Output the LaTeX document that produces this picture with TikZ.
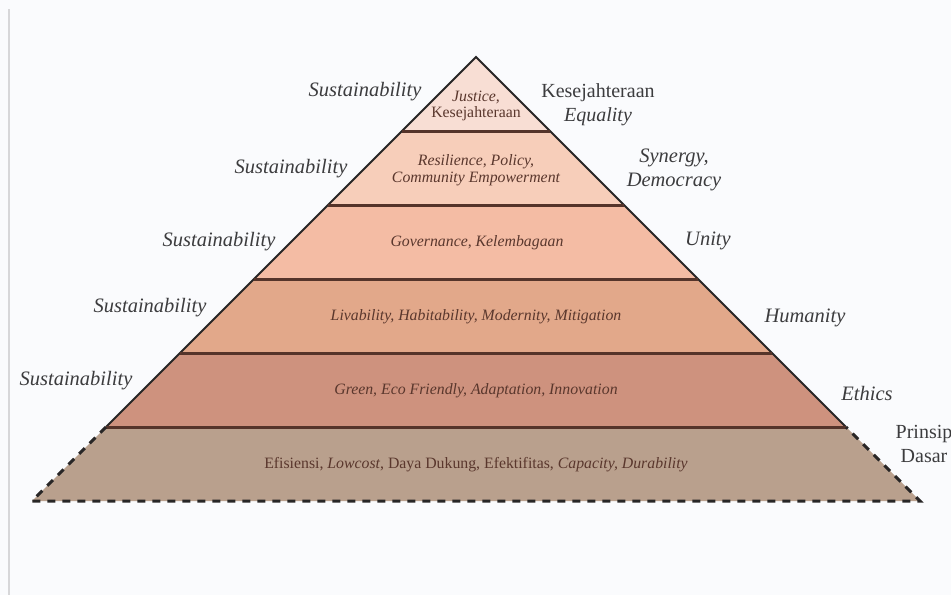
\documentclass[tikz,border=0pt]{standalone}
\usepackage{fontspec}
\setmainfont{Liberation Serif}
\definecolor{bgc}{RGB}{250,251,253}
\definecolor{edgec}{RGB}{215,215,217}
\definecolor{cA}{RGB}{248,222,212}
\definecolor{cB}{RGB}{247,206,186}
\definecolor{cC}{RGB}{244,188,164}
\definecolor{cD}{RGB}{226,168,138}
\definecolor{cE}{RGB}{206,146,126}
\definecolor{cF}{RGB}{185,160,141}
\definecolor{divc}{RGB}{85,52,42}
\definecolor{sidec}{RGB}{40,38,38}
\definecolor{labc}{RGB}{60,60,62}
\definecolor{inc}{RGB}{90,55,45}
\tikzset{
  sidelab/.style={font=\fontsize{20.5}{24}\selectfont\itshape, text=labc, align=center, inner sep=0pt},
  sideup/.style={font=\fontsize{20}{24}\selectfont, text=labc, align=center, inner sep=0pt},
  inlab/.style={font=\fontsize{15.8}{16.5}\selectfont\itshape, text=inc, align=center, inner sep=0pt},
  sideline/.style={draw=sidec, line width=2pt},
  divline/.style={draw=divc, line width=3pt},
  dashedge/.style={draw=sidec, line width=3pt, dash pattern=on 8pt off 7pt}
}
\begin{document}
\begin{tikzpicture}[x=1pt,y=-1pt]
\useasboundingbox (0,0) rectangle (951,595);
\clip (0,0) rectangle (951,595);
\fill[bgc] (0,0) rectangle (951,595);
\draw[edgec, line width=2pt] (9,9) -- (9,595);
% pyramid corners
\coordinate (T) at (476,57);
\coordinate (L1) at (402,131); \coordinate (R1) at (550,131);
\coordinate (L2) at (328,205); \coordinate (R2) at (624,205);
\coordinate (L3) at (254,279); \coordinate (R3) at (698,279);
\coordinate (L4) at (180,353); \coordinate (R4) at (772,353);
\coordinate (L5) at (106,427); \coordinate (R5) at (846,427);
\coordinate (L6) at (32,501);  \coordinate (R6) at (920,501);
% layers
\fill[cA] (T) -- (L1) -- (R1) -- cycle;
\fill[cB] (L1) -- (L2) -- (R2) -- (R1) -- cycle;
\fill[cC] (L2) -- (L3) -- (R3) -- (R2) -- cycle;
\fill[cD] (L3) -- (L4) -- (R4) -- (R3) -- cycle;
\fill[cE] (L4) -- (L5) -- (R5) -- (R4) -- cycle;
\fill[cF] (L5) -- (L6) -- (R6) -- (R5) -- cycle;
% outlines
\draw[sideline, line join=miter] (L5) -- (T) -- (R5);
\draw[divline] (L1) -- (R1);
\draw[divline] (L2) -- (R2);
\draw[divline] (L3) -- (R3);
\draw[divline] (L4) -- (R4);
\draw[divline] (L5) -- (R5);
\draw[dashedge] (L5) -- (L6) -- (R6) -- (R5);
% inner texts
\node[inlab] (t1) at (476,106) {Justice,\\\upshape Kesejahteraan};
\node[inlab] (t2) at (476,170) {Resilience, Policy,\\Community Empowerment};
\node[inlab] (t3) at (477,243) {Governance, Kelembagaan};
\node[inlab] (t4) at (476,317) {Livability, Habitability, Modernity, Mitigation};
\node[inlab] (t5) at (476,391) {Green, Eco Friendly, Adaptation, Innovation};
\node[inlab] (t6) at (476,465) {\upshape Efisiensi, \itshape Lowcost\upshape, Daya Dukung, Efektifitas, \itshape Capacity, Durability};
% left labels
\node[sidelab] (s1) at (365,92) {Sustainability};
\node[sidelab] (s2) at (291,169) {Sustainability};
\node[sidelab] (s3) at (219,242) {Sustainability};
\node[sidelab] (s4) at (150,308) {Sustainability};
\node[sidelab] (s5) at (76,381) {Sustainability};
% right labels
\node[sideup] (r1) at (598,105) {Kesejahteraan\\\itshape Equality};
\node[sidelab] (r2) at (674,170) {Synergy,\\Democracy};
\node[sidelab] (r3) at (708,241) {Unity};
\node[sidelab] (r4) at (805,318) {Humanity};
\node[sidelab] (r5) at (867,393) {Ethics};
\node[sideup] (r6) at (924,444) {Prinsip\\Dasar};
\end{tikzpicture}
\end{document}
